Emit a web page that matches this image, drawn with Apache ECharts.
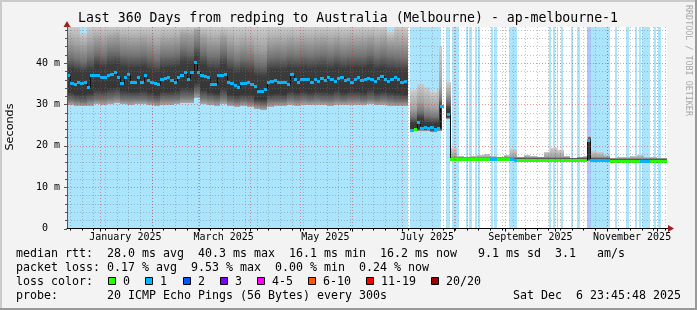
<!DOCTYPE html>
<html><head><meta charset="utf-8">
<script src="https://cdn.jsdelivr.net/npm/echarts@6.0.0/dist/echarts.min.js"></script>
<style>html,body{margin:0;padding:0;background:#f3f3f3;}#c{width:697px;height:310px;}</style>
</head><body><div id="c"></div>
<script>
// ---------------- data ----------------
const Y_MAX = 48.7;            // ms, top of the plot
const DAYS = 360;              // span of the graph in days
const START_UTC = Date.UTC(2024, 11, 11, 23, 45, 48);
const MEDIAN_STEP = 2;         // days per median sample

// median rtt (ms), one value per 2 days, null = no data
const medianRtt = [
36.9,35.0,34.7,35.4,35.0,35.2,34.0,36.9,36.9,36.9,
36.4,36.4,36.9,37.2,37.6,36.6,35.0,36.5,37.1,35.2,
35.4,36.6,35.4,36.9,35.7,35.4,35.0,34.7,35.9,36.2,
36.4,35.8,35.4,36.6,37.0,37.6,36.1,37.6,40.2,37.8,
36.9,36.8,36.6,34.7,34.7,36.9,37.0,37.3,35.4,35.0,
34.5,34.0,35.0,35.1,35.2,34.7,34.2,33.0,33.0,33.7,
35.2,35.5,35.7,35.4,35.3,35.2,34.7,37.1,36.0,35.2,
35.9,36.0,36.1,35.4,36.0,35.6,36.3,35.8,36.5,35.9,
35.5,36.2,36.6,35.8,36.0,35.4,36.1,36.4,35.7,35.9,
36.3,36.0,35.6,36.2,36.8,36.1,35.5,35.9,36.4,36.0,
35.2,35.6,null,23.8,24.0,25.6,24.2,24.5,24.1,24.3,
24.0,24.2,29.6,null,27.5,16.6,16.6,16.6,16.6,16.6,
16.6,16.6,16.6,16.6,16.6,16.6,16.6,16.6,16.6,16.6,
16.6,16.6,16.6,16.6,16.5,16.5,16.5,16.5,16.5,16.5,
16.5,16.5,16.5,16.5,16.5,16.5,16.5,16.5,16.5,16.5,
16.5,16.5,16.5,16.5,16.5,16.5,21.2,16.4,16.4,16.4,
16.4,16.4,16.4,16.3,16.3,16.3,16.3,16.3,16.3,16.3,
16.3,16.3,16.2,16.2,16.2,16.3,16.3,16.3,16.3,16.3
];
// loss colour bucket of each median sample (index into lossColors)
const medianLoss = [
1,1,1,1,1,1,1,1,1,1, 1,1,1,1,1,1,1,1,1,1, 1,1,1,1,1,1,1,1,1,1,
1,1,1,1,1,1,1,1,1,1, 1,1,1,1,1,1,1,1,1,1, 1,1,1,1,1,1,1,1,1,1,
1,1,1,1,1,1,1,1,1,1, 1,1,1,1,1,1,1,1,1,1, 1,1,1,1,1,1,1,1,1,1,
1,1,1,1,1,1,1,1,1,1,
1,1,0,1,0,1,1,1,1,1,
1,1,1,0,1,0,0,0,0,0,
0,0,0,0,0,0,0,1,1,0,
0,0,0,1,1,0,0,0,0,0,
0,0,0,0,0,0,0,0,0,0,
0,0,0,0,0,0,1,1,1,1,
1,1,1,0,0,0,0,0,0,0,
0,0,1,1,1,0,0,0,0,0
];

// smoke samples: start day of each sample (ends at next start / DAYS)
const smokeStart = [
0,4,8,12,16,20,24,28,32,36,40,44,48,52,56,60,64,68,72,76,80,84,88,92,96,100,
104,108,112,116,120,124,128,132,136,140,144,148,152,156,160,164,168,172,176,180,
184,188,192,196,200,
204.8,
206,210,214,218,222,223.4,
224.8,
227.4,
230.2,234,238,242,246,250,254,258,262,266,270,274,278,282,286,290,294,298,302,306,
310,312.4,314.4,318,322,326,330,334,338,342,346,350,354,358
];
const smokeMin = [
29.8,29.6,29.5,29.7,30.0,29.9,30.2,30.3,30.1,29.9, 30.0,30.0,29.8,29.6,29.9,29.9,30.0,30.4,30.4,31.5,
30.2,29.9,29.7,30.2,29.6,29.4,29.5,29.4,28.8,28.6, 29.4,29.6,29.6,29.8,29.7,29.8,29.8,29.9,29.8,29.7,
29.9,29.8,29.9,29.9,29.8,30.0,29.8,29.9,29.7,29.6, 29.5,
null,
23.5,23.6,23.5,23.4,23.5,23.5,
null,
26.5,
16.3,16.3,16.3,16.3,16.3,16.3,16.3,16.3,16.3,16.3,
16.2,16.2,16.2,16.2,16.2,16.2,16.2,16.2,16.2,16.2,16.2,
16.3,16.2,16.2,16.2,
16.0,16.0,16.0,16.0,16.0,16.0,16.0,16.0,16.0
];
const smokeQ1 = [
31.0,30.8,30.6,31.0,31.3,31.2,31.6,31.8,31.4,31.2, 31.4,31.4,31.0,30.8,31.2,31.2,31.4,31.8,31.8,33.0,
31.6,31.2,31.0,31.6,30.8,30.6,30.8,30.6,30.0,29.8, 30.8,30.9,30.8,31.2,31.0,31.2,31.1,31.2,31.1,31.0,
31.3,31.1,31.2,31.2,31.1,31.4,31.1,31.2,31.0,30.9, 30.8,
null,
23.7,23.8,23.7,23.6,23.7,23.8,
null,
26.8,
16.4,16.4,16.4,16.4,16.4,16.4,16.4,16.4,16.4,16.4,
16.3,16.3,16.3,16.3,16.3,16.3,16.3,16.3,16.3,16.3,16.3,
16.5,16.3,16.3,16.3,
16.1,16.1,16.1,16.1,16.1,16.1,16.1,16.1,16.1
];
const smokeQ2 = [
33.0,32.6,32.4,32.8,33.6,33.4,34.0,34.2,33.4,33.2, 33.2,33.4,33.0,32.4,33.2,33.2,33.4,34.2,34.0,35.5,
33.8,33.0,32.8,34.0,32.6,32.2,32.5,32.4,31.4,31.2, 32.6,32.8,32.6,33.2,32.9,33.2,33.0,33.2,33.3,33.0,
33.4,33.0,33.2,33.2,33.1,33.6,33.0,33.3,32.9,32.7, 32.5,
null,
23.9,24.0,23.9,23.8,23.9,24.0,
null,
27.0,
16.5,16.5,16.5,16.5,16.5,16.5,16.5,16.5,16.5,16.5,
16.4,16.4,16.4,16.4,16.4,16.4,16.4,16.4,16.4,16.4,16.4,
16.8,16.4,16.4,16.4,
16.2,16.2,16.2,16.2,16.2,16.2,16.2,16.2,16.2
];
const smokeQ3 = [
38.5,38.0,37.8,38.4,39.4,39.0,39.6,39.8,39.0,38.8, 38.8,39.0,38.4,37.8,38.8,38.8,39.0,40.0,39.8,41.5,
39.4,38.6,38.4,39.6,38.2,37.6,38.0,37.8,36.8,36.6, 38.2,38.4,38.2,38.8,38.5,38.8,38.6,38.8,38.9,38.6,
39.0,38.6,38.8,38.8,38.7,39.2,38.6,38.9,38.4,38.2, 38.0,
null,
25.4,26.6,25.6,25.4,25.5,29.6,
null,
29.0,
16.9,16.9,16.9,16.9,16.9,16.9,16.9,16.9,16.9,16.9,
16.8,16.8,16.8,16.8,16.8,16.8,16.8,16.8,16.8,16.8,16.8,
21.5,16.8,16.8,16.8,
16.6,16.6,16.6,16.6,16.6,16.6,16.6,16.6,16.6
];
const smokeQ4 = [
41.5,41.0,40.5,41.5,42.5,42.0,42.8,43.0,42.2,42.0, 42.0,42.2,41.6,41.0,42.0,42.0,42.2,43.4,43.0,44.5,
42.6,41.8,41.6,42.8,41.4,40.8,41.2,41.0,40.0,39.8, 41.4,41.6,41.4,42.0,41.7,42.0,41.8,42.0,42.1,41.8,
42.2,41.8,42.0,42.0,41.9,42.4,41.8,42.1,41.6,41.4, 41.2,
null,
27.0,28.2,27.2,27.0,27.0,31.0,
null,
30.5,
17.1,17.1,17.1,17.1,17.1,17.1,17.1,17.1,17.1,17.1,
17.0,17.0,17.0,17.0,17.0,17.0,17.0,17.0,17.0,17.0,17.0,
22.0,17.0,17.0,17.0,
16.8,16.8,16.8,16.8,16.8,16.8,16.8,16.8,16.8
];
const smokeQ5 = [
45.0,44.5,44.0,45.0,46.0,45.5,46.2,46.5,45.8,45.5, 45.6,45.8,45.2,44.6,45.6,45.6,45.8,47.0,46.8,48.0,
46.2,45.4,45.2,46.4,45.0,44.4,44.8,44.6,43.6,43.4, 45.0,45.2,45.0,45.6,45.3,45.6,45.4,45.6,45.7,45.4,
45.8,45.4,45.6,45.6,45.5,46.0,45.4,45.7,45.0,45.0, 45.0,
null,
29.0,30.5,29.5,29.2,29.2,34.0,
null,
32.5,
17.4,17.4,17.4,17.4,17.4,17.4,17.4,17.4,17.4,17.4,
17.3,17.3,17.3,17.3,17.3,17.3,17.3,17.3,17.3,17.3,17.3,
22.2,17.3,17.3,17.3,
17.0,17.0,17.0,17.0,17.0,17.0,17.0,17.0,17.0
];
const smokeMax = [
50,50,47.2,50,50,50,50,50,50,50, 50,50,50,50,50,50,50,50,50,50,
50,50,50,50,50,50,50,50,50,50, 50,50,50,50,50,50,50,50,50,50,
50,50,50,50,50,50,50,50,47.5,50, 50,
null,
33.5,35.0,34.2,33.0,34.0,44.0,
null,
35.5,
19.5,17.6,17.4,17.5,17.8,18.0,17.6,17.2,17.8,19.2,
17.4,17.8,17.6,17.2,18.6,19.4,19.0,17.6,17.0,17.2,17.6,
22.4,18.8,18.6,17.8,
17.0,17.2,17.4,17.6,17.8,17.4,17.3,17.0,17.0
];

// loss background intervals: [startDay, endDay, lossBucket]
const lossBands = [
[0,204.8,1],[206.0,224.4,1],[227.4,230.0,1],[231.0,234.9,1],[239.1,240.3,1],[241.4,242.7,1],
[244.8,245.8,1],[246.6,247.8,1],[254.4,255.4,1],[256.4,257.8,1],[264.9,269.8,1],[289.2,290.4,1],
[291.4,292.5,1],[293.7,294.6,1],[296.2,297.8,1],[302.2,303.4,1],[306.2,307.8,1],[311.8,326.0,1],
[312.2,314.2,2],[328.8,330.2,1],[335.1,337.2,1],[340.8,342.2,1],[343.0,344.4,1],[345.2,349.8,1],
[352.2,353.1,1],[354.8,356.2,1]
];

const monthNames = ['January','February','March','April','May','June','July','August','September','October','November','December'];
const labelMonths = [0,2,4,6,8,10];
const yTickValues = [0,10,20,30,40];

const statLines = [
  'median rtt:  28.0 ms avg  40.3 ms max  16.1 ms min  16.2 ms now   9.1 ms sd  3.1   am/s',
  'packet loss: 0.17 % avg  9.53 % max  0.00 % min  0.24 % now',
  'loss color:',
  'probe:       20 ICMP Echo Pings (56 Bytes) every 300s                  Sat Dec  6 23:45:48 2025'
];
const lossLegend = ['0','1','2','3','4-5','6-10','11-19','20/20'];

// ---------------- styles ----------------
const lossColors = ['#26ff00','#00b8ff','#0059ff','#7e00ff','#ff00ff','#ff5500','#ff0000','#a10000'];
const lossBg = ['#ffffff','#aae5fd','#a9c6fd'];
// shade at each smoke boundary (min, q1, q2, q3, q4, q5, max)
const smokeShades = ['#a8a8a8','#707070','#363636','#3c3c3c','#757575','#a2a2a2','#cccccc'];
const MINOR = 'rgba(120,120,120,0.45)';
const MAJOR = 'rgba(205,50,50,0.5)';
const MONO = 'DejaVu Sans Mono';

// ---------------- derived ----------------
const monthStartDays = [];
for (let m = 0; m < 12; m++) monthStartDays.push((Date.UTC(2025, m, 1) - START_UTC) / 864e5);
const labelDays = labelMonths.map(m => monthStartDays[m] + 15);
const weekDays = [];
for (let d = 1.8; d < DAYS; d += 7) weekDays.push(d);

const smokeRects = [];
for (let i = 0; i < smokeStart.length; i++) {
  if (smokeMin[i] == null) continue;
  const x0 = smokeStart[i], x1 = i + 1 < smokeStart.length ? smokeStart[i + 1] : DAYS;
  const b = [smokeMin[i], smokeQ1[i], smokeQ2[i], smokeQ3[i], smokeQ4[i], smokeQ5[i], smokeMax[i]];
  const top = Math.min(smokeMax[i], Y_MAX);
  for (let k = 0; k < 6; k++) {
    const lo = Math.min(b[k], top), hi = Math.min(b[k + 1], top);
    if (hi > lo) smokeRects.push([x0, x1, lo, hi, k]);
  }
}
const medianItems = [], connItems = [];
for (let j = 0; j < medianRtt.length; j++) {
  const v = medianRtt[j];
  if (v == null) continue;
  medianItems.push([j * MEDIAN_STEP, (j + 1) * MEDIAN_STEP, v, medianLoss[j]]);
  if (j > 0 && medianRtt[j - 1] != null && medianRtt[j - 1] !== v)
    connItems.push([j * MEDIAN_STEP, medianRtt[j - 1], v]);
}
const vGrid = weekDays.map(d => [d, 0]).concat(monthStartDays.filter(d => d > 0 && d < DAYS).map(d => [d, 1]));
const hGrid = [];
for (let v = 2; v < Y_MAX; v += 2) hGrid.push([0, v, v % 10 === 0 ? 1 : 0]);
hGrid.push([0, 0, 2]);

function rr(api, x0, x1, y0, y1, fill) {
  const a = api.coord([x0, y1]), b = api.coord([x1, y0]);
  const xa = Math.round(a[0]), xb = Math.round(b[0]), ya = Math.round(a[1]), yb = Math.round(b[1]);
  return { type: 'rect', shape: { x: xa, y: ya, width: xb - xa, height: yb - ya }, style: { fill } };
}

const chart = echarts.init(document.getElementById('c'), null, { renderer: 'canvas', width: 697, height: 310 });

// legend boxes
const legendGraphics = [];
let bx = 108.3;
lossLegend.forEach((lab, i) => {
  legendGraphics.push({ type: 'rect', shape: { x: Math.round(bx) + 0.5, y: 277.5, width: 7, height: 7 },
    style: { fill: lossColors[i], stroke: '#000', lineWidth: 1 } });
  legendGraphics.push({ type: 'text', x: Math.round(bx) + 15, y: 282,
    style: { text: lab, fontFamily: MONO, fontSize: 11.63, fill: '#000', verticalAlign: 'middle' } });
  bx += (lab.length + 4.3) * 7;
});

chart.setOption({
  animation: false,
  backgroundColor: '#f3f3f3',
  grid: { left: 67, right: 30, top: 27, bottom: 81.5, show: true, backgroundColor: '#ffffff', borderWidth: 0 },
  xAxis: [{
    type: 'value', min: 0, max: DAYS, z: 10,
    axisLine: { show: true, lineStyle: { color: '#000', width: 1 } },
    axisTick: { show: false }, splitLine: { show: false },
    axisLabel: {
      customValues: labelDays, margin: 4, color: '#000', fontFamily: MONO, fontSize: 10,
      formatter: v => { const i = labelDays.findIndex(d => Math.abs(d - v) < 1e-6); return i < 0 ? '' : monthNames[labelMonths[i]] + ' 2025'; }
    }
  }],
  yAxis: [{
    type: 'value', min: 0, max: Y_MAX, interval: 10, z: 10,
    axisLine: { show: true, lineStyle: { color: '#555', width: 1 } },
    axisTick: { show: false }, splitLine: { show: false },
    axisLabel: { customValues: yTickValues, margin: 7, color: '#000', fontFamily: MONO, fontSize: 10,
      formatter: v => v === 0 ? '0  ' : v + ' m' }
  }],
  series: [
    { type: 'custom', z: 1, silent: true, data: lossBands,
      renderItem: (p, api) => rr(api, api.value(0), api.value(1), 0, Y_MAX, lossBg[api.value(2)]) },
    { type: 'custom', z: 2, silent: true, data: smokeRects,
      renderItem: (p, api) => {
        const k = api.value(4);
        const fill = new echarts.graphic.LinearGradient(0, 0, 0, 1, [
          { offset: 0, color: smokeShades[k + 1] }, { offset: 1, color: smokeShades[k] }]);
        return rr(api, api.value(0), api.value(1), api.value(2), api.value(3), fill);
      } },
    { type: 'custom', z: 3, silent: true, data: connItems,
      renderItem: (p, api) => {
        const a = api.coord([api.value(0), api.value(1)]), b = api.coord([api.value(0), api.value(2)]);
        const x = Math.round(a[0]) + 0.5;
        return { type: 'line', shape: { x1: x, y1: Math.round(a[1]), x2: x, y2: Math.round(b[1]) }, style: { stroke: '#111', lineWidth: 1 } };
      } },
    { type: 'custom', z: 4, silent: true, data: medianItems,
      renderItem: (p, api) => {
        const a = api.coord([api.value(0), api.value(2)]), b = api.coord([api.value(1), api.value(2)]);
        const xa = Math.round(a[0]), xb = Math.round(b[0]), yc = Math.round(a[1] - 1.5);
        return { type: 'rect', shape: { x: xa, y: yc, width: xb - xa, height: 3 }, style: { fill: lossColors[api.value(3)] } };
      } },
    { type: 'custom', z: 5, silent: true, data: vGrid,
      renderItem: (p, api) => {
        const d = api.value(0), major = api.value(1) === 1;
        const t = api.coord([d, Y_MAX]), b = api.coord([d, 0]);
        const x = Math.round(b[0]) + 0.5;
        return { type: 'group', children: [
          { type: 'line', shape: { x1: x, y1: t[1], x2: x, y2: b[1] - 1 }, style: { stroke: major ? MAJOR : MINOR, lineWidth: 1, lineDash: [1, 2] } },
          { type: 'line', shape: { x1: x, y1: b[1], x2: x, y2: b[1] + (major ? 3 : 2) }, style: { stroke: '#000', lineWidth: 1 } }
        ] };
      } },
    { type: 'custom', z: 5, silent: true, data: hGrid,
      renderItem: (p, api) => {
        const v = api.value(1), kind = api.value(2);
        const l = api.coord([0, v]), r = api.coord([DAYS, v]);
        const y = Math.round(l[1]) + 0.5;
        const ch = [{ type: 'line', shape: { x1: l[0] - (kind ? 3 : 2), y1: y, x2: l[0], y2: y }, style: { stroke: '#555', lineWidth: 1 } }];
        if (kind !== 2) ch.push({ type: 'line', shape: { x1: l[0] + 1, y1: y, x2: r[0], y2: y }, style: { stroke: kind ? MAJOR : MINOR, lineWidth: 1, lineDash: [1, 2] } });
        return { type: 'group', children: ch };
      } }
  ],
  graphic: [
    { type: 'text', x: 348, y: 18.5, style: { text: 'Last 360 Days from redping to Australia (Melbourne) - ap-melbourne-1',
      fontFamily: MONO, fontSize: 13.2, fill: '#000', align: 'center', verticalAlign: 'middle' } },
    { type: 'text', x: 10, y: 127, rotation: Math.PI / 2, style: { text: 'Seconds', fontFamily: 'DejaVu Sans', fontSize: 11.2,
      fill: '#000', align: 'center', verticalAlign: 'middle' } },
    { type: 'text', x: 688.5, y: 5, rotation: -Math.PI / 2, style: { text: 'RRDTOOL / TOBI OETIKER', fontFamily: MONO, fontSize: 8.4,
      fill: '#a8a8a8', align: 'left', verticalAlign: 'middle' } },
    { type: 'text', x: 16, y: 254, style: { text: statLines[0], fontFamily: MONO, fontSize: 11.63, fill: '#000', verticalAlign: 'middle' } },
    { type: 'text', x: 16, y: 268, style: { text: statLines[1], fontFamily: MONO, fontSize: 11.63, fill: '#000', verticalAlign: 'middle' } },
    { type: 'text', x: 16, y: 282, style: { text: statLines[2], fontFamily: MONO, fontSize: 11.63, fill: '#000', verticalAlign: 'middle' } },
    { type: 'text', x: 16, y: 296, style: { text: statLines[3], fontFamily: MONO, fontSize: 11.63, fill: '#000', verticalAlign: 'middle' } },
    ...legendGraphics,
    { type: 'polygon', shape: { points: [[63.5, 27], [70.5, 27], [67, 21]] }, style: { fill: '#a01e1e' } },
    { type: 'line', shape: { x1: 667, y1: 228.5, x2: 670, y2: 228.5 }, style: { stroke: '#000', lineWidth: 1 } },
    { type: 'polygon', shape: { points: [[668, 225], [668, 232], [674, 228.5]] }, style: { fill: '#a01e1e' } },
    { type: 'rect', shape: { x: 0, y: 0, width: 697, height: 2 }, style: { fill: '#cbcbcb' } },
    { type: 'rect', shape: { x: 0, y: 0, width: 2, height: 310 }, style: { fill: '#cbcbcb' } },
    { type: 'rect', shape: { x: 0, y: 308, width: 697, height: 2 }, style: { fill: '#999999' } },
    { type: 'rect', shape: { x: 695, y: 0, width: 2, height: 310 }, style: { fill: '#999999' } }
  ]
});
</script></body></html>
